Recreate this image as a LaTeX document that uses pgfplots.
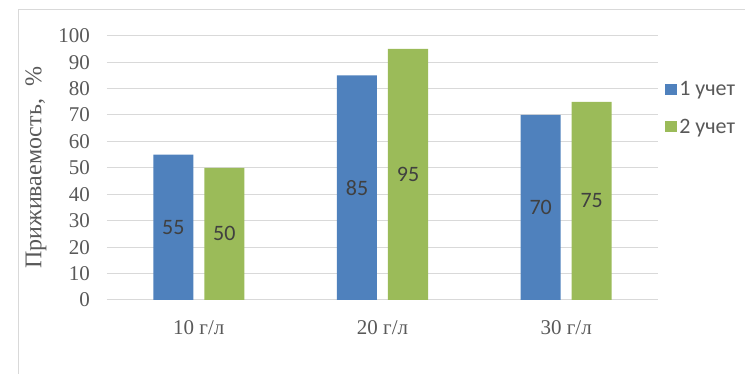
\documentclass[border=0pt]{standalone}
\usepackage{fontspec}
\setmainfont{Liberation Serif}
\newfontfamily\tnr{Liberation Serif}
\newfontfamily\carlito{Carlito}
\usepackage{pgfplots}
\pgfplotsset{compat=1.18}
\definecolor{barblue}{HTML}{4F81BD}
\definecolor{bargreen}{HTML}{9BBB59}
\definecolor{gridgray}{HTML}{D9D9D9}
\definecolor{txtgray}{HTML}{595959}
\definecolor{lblgray}{HTML}{404040}
\begin{document}
\begin{tikzpicture}[x=1pt,y=1pt]
\path[use as bounding box] (0,0) rectangle (745,374);
\draw[gridgray, line width=1pt] (18,0) -- (18,364) -- (745,364);
\begin{axis}[
  at={(107pt,74pt)}, anchor=south west,
  width=551pt, height=264.3pt, scale only axis,
  ymin=0, ymax=100, ytick={0,10,...,100},
  yticklabels={{\tnr 0},{\tnr 10},{\tnr 20},{\tnr 30},{\tnr 40},{\tnr 50},{\tnr 60},{\tnr 70},{\tnr 80},{\tnr 90},{\tnr 100}},
  xmin=-0.5, xmax=2.5, xtick={0,1,2},
  xticklabels={10 г/л, 20 г/л, 30 г/л},
  enlarge x limits=false,
  ybar=11pt, bar width=40pt,
  axis line style={draw=none},
  major tick length=0pt,
  ymajorgrids, grid style={gridgray, line width=1pt},
  /pgf/number format/assume math mode=true,
  yticklabel style={font=\tnr\fontsize{21}{21}\selectfont, text=txtgray, anchor=east, inner sep=0pt, xshift=-17pt},
  xticklabel style={font=\tnr\fontsize{21}{21}\selectfont, text=txtgray, anchor=north, inner sep=0pt, yshift=-20pt},
  ylabel={Приживаемость,\ \ \%},
  every axis y label/.style={at={(axis description cs:-0.129,0.5)}, rotate=90, anchor=center, font=\tnr\fontsize{24}{24}\selectfont, text=txtgray},
  nodes near coords,
  visualization depends on=y \as \rawy,
  every node near coord/.append style={font=\carlito\fontsize{22}{22}\selectfont, text=lblgray, anchor=center, shift={(axis direction cs:0,-\rawy/2)}},
  legend style={at={(axis description cs:1.012,0.838)}, anchor=north west, draw=none, fill=none,
    font=\carlito\fontsize{22}{22}\selectfont, text=txtgray, row sep=17pt, inner sep=0pt,
    nodes={inner sep=2.5pt}, cells={anchor=west}},
  legend image code/.code={\fill[#1] (0pt,-5.5pt) rectangle (12pt,5.5pt);},
]
\addplot[fill=barblue, draw=none] coordinates {(0,55) (1,85) (2,70)};
\addplot[fill=bargreen, draw=none] coordinates {(0,50) (1,95) (2,75)};
\legend{1 учет, 2 учет}
\end{axis}
\end{tikzpicture}
\end{document}
